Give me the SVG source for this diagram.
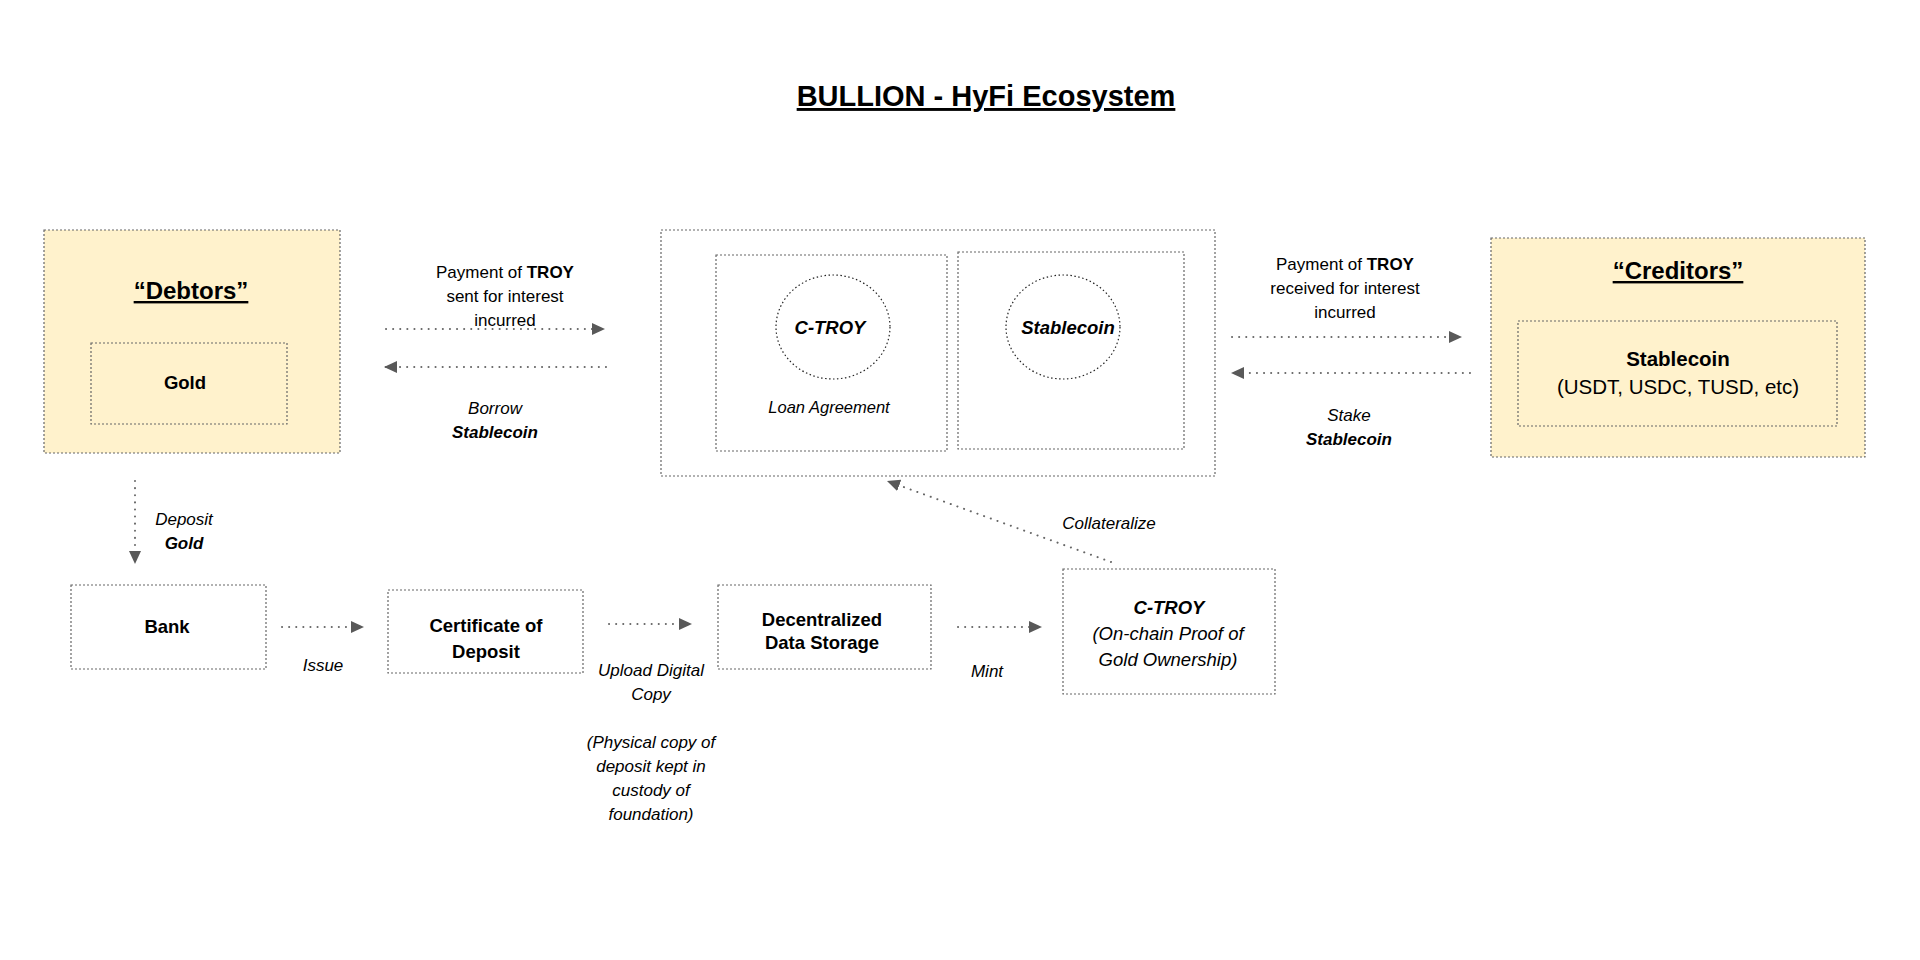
<svg xmlns="http://www.w3.org/2000/svg" width="1920" height="960" viewBox="0 0 1920 960">
<style>
text{font-family:"Liberation Sans",Arial,sans-serif;fill:#000;text-anchor:middle}
.b{font-weight:bold}
.i{font-style:italic}
.u{text-decoration:underline}
.box{fill:none;stroke:#666;stroke-width:1.2;stroke-dasharray:2 2}
.yel{fill:#fff2cc;stroke:#666;stroke-width:1.2;stroke-dasharray:2 2}
.circ{fill:none;stroke:#222;stroke-width:1.2;stroke-dasharray:1.5 2.5}
.con{fill:none;stroke:#666;stroke-width:2;stroke-dasharray:0.1 7;stroke-linecap:round;marker-end:url(#ah)}
.s17{font-size:17px}
.s18{font-size:18.5px}
</style>
<defs>
<marker id="ah" markerUnits="userSpaceOnUse" markerWidth="14" markerHeight="12" refX="13" refY="6" orient="auto">
<path d="M0,0 L13,6 L0,12 z" fill="#595959"/>
</marker>
</defs>
<rect width="1920" height="960" fill="#fff"/>
<g id="title">
<text x="986" y="106" class="b u" font-size="29">BULLION - HyFi Ecosystem</text>
</g>
<g id="debtors">
<rect class="yel" x="44" y="230" width="296" height="223"/>
<text x="191" y="299" class="b u" font-size="24">“Debtors”</text>
</g>
<g id="gold">
<rect class="box" x="91" y="343" width="196" height="81"/>
<text x="185" y="389" class="b s18">Gold</text>
</g>
<g id="pool">
<rect class="box" x="661" y="230" width="554" height="246"/>
</g>
<g id="loan">
<rect class="box" x="716" y="255" width="231" height="196"/>
<text x="829" y="413" class="i" font-size="16.5">Loan Agreement</text>
</g>
<g id="ctroy-circle">
<ellipse class="circ" cx="833" cy="327" rx="57" ry="52"/>
<text x="830" y="334" class="b i s18">C-TROY</text>
</g>
<g id="stable-pool">
<rect class="box" x="958" y="252" width="226" height="197"/>
</g>
<g id="stable-circle">
<ellipse class="circ" cx="1063" cy="327" rx="57" ry="52"/>
<text x="1068" y="334" class="b i s18">Stablecoin</text>
</g>
<g id="creditors">
<rect class="yel" x="1491" y="238" width="374" height="219"/>
<text x="1678" y="279" class="b u" font-size="24">“Creditors”</text>
</g>
<g id="stablecoin">
<rect class="box" x="1518" y="321" width="319" height="105"/>
<text x="1678" y="366" class="b" font-size="20.5">Stablecoin</text>
<text x="1678" y="394" font-size="20.5">(USDT, USDC, TUSD, etc)</text>
</g>
<g id="bank">
<rect class="box" x="71" y="585" width="195" height="84"/>
<text x="167" y="633" class="b s18">Bank</text>
</g>
<g id="certificate">
<rect class="box" x="388" y="590" width="195" height="83"/>
<text x="486" y="632" class="b s18">Certificate of</text>
<text x="486" y="658" class="b s18">Deposit</text>
</g>
<g id="storage">
<rect class="box" x="718" y="585" width="213" height="84"/>
<text x="822" y="626" class="b s18">Decentralized</text>
<text x="822" y="649" class="b s18">Data Storage</text>
</g>
<g id="ctroy">
<rect class="box" x="1063" y="569" width="212" height="125"/>
<text x="1169" y="614" class="b i s18">C-TROY</text>
<text x="1168" y="640" class="i s18">(On-chain Proof of</text>
<text x="1168" y="666" class="i s18">Gold Ownership)</text>
</g>
<g id="connectors">
<line class="con" x1="386" y1="329" x2="605" y2="329"/>
<line class="con" x1="606" y1="367" x2="384" y2="367"/>
<line class="con" x1="1232" y1="337" x2="1462" y2="337"/>
<line class="con" x1="1470" y1="373" x2="1231" y2="373"/>
<line class="con" x1="135" y1="481" x2="135" y2="564"/>
<line class="con" x1="282" y1="627" x2="364" y2="627"/>
<line class="con" x1="609" y1="624" x2="692" y2="624"/>
<line class="con" x1="958" y1="627" x2="1042" y2="627"/>
<line class="con" x1="1111" y1="562" x2="887" y2="481"/>
</g>
<g id="labels">
<text x="505" y="278" class="s17">Payment of <tspan class="b">TROY</tspan></text>
<text x="505" y="302" class="s17">sent for interest</text>
<text x="505" y="326" class="s17">incurred</text>
<text x="495" y="414" class="i s17">Borrow</text>
<text x="495" y="438" class="b i s17">Stablecoin</text>
<text x="1345" y="270" class="s17">Payment of <tspan class="b">TROY</tspan></text>
<text x="1345" y="294" class="s17">received for interest</text>
<text x="1345" y="318" class="s17">incurred</text>
<text x="1349" y="421" class="i s17">Stake</text>
<text x="1349" y="445" class="b i s17">Stablecoin</text>
<text x="184" y="525" class="i s17">Deposit</text>
<text x="184" y="549" class="b i s17">Gold</text>
<text x="323" y="671" class="i s17">Issue</text>
<text x="651" y="676" class="i s17">Upload Digital</text>
<text x="651" y="700" class="i s17">Copy</text>
<text x="651" y="748" class="i s17">(Physical copy of</text>
<text x="651" y="772" class="i s17">deposit kept in</text>
<text x="651" y="796" class="i s17">custody of</text>
<text x="651" y="820" class="i s17">foundation)</text>
<text x="987" y="677" class="i s17">Mint</text>
<text x="1109" y="529" class="i s17">Collateralize</text>
</g>
</svg>
